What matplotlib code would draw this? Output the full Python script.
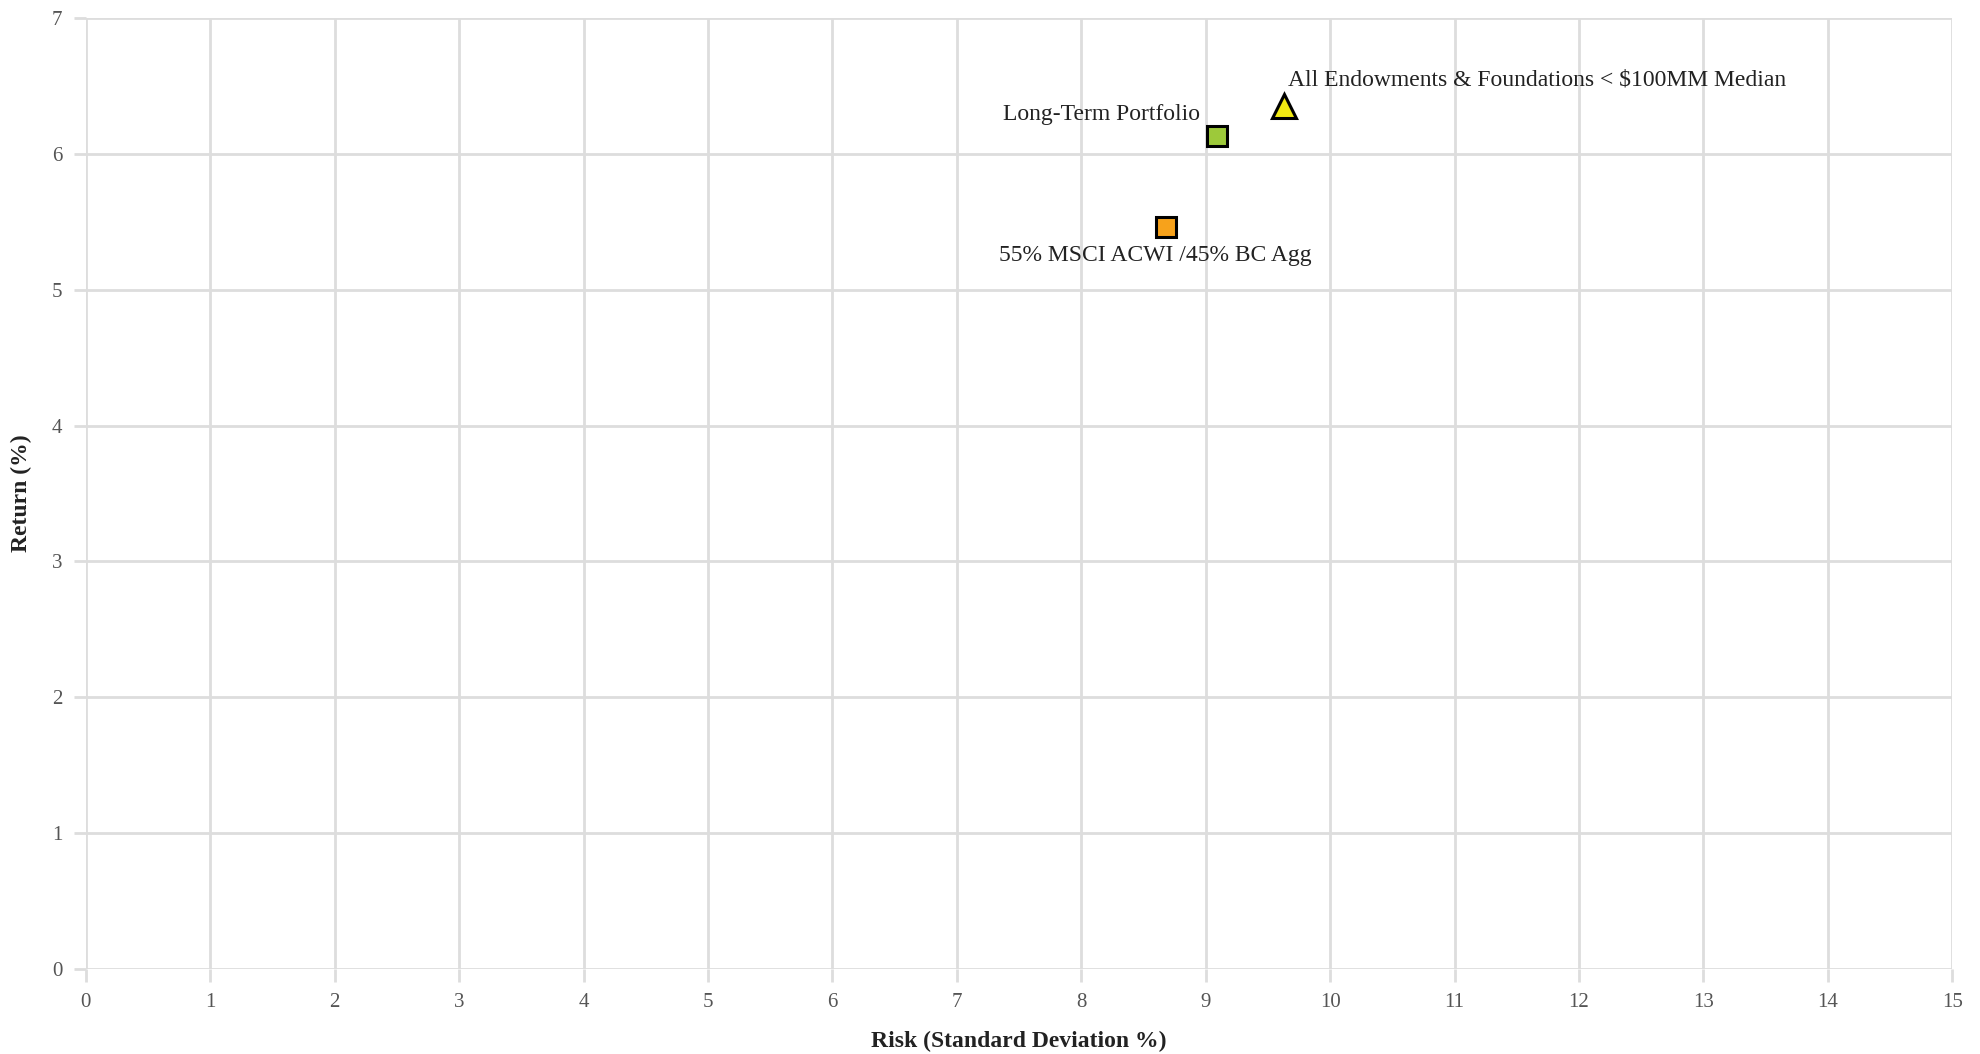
import matplotlib
matplotlib.use("Agg")
import matplotlib.pyplot as plt

plt.rcParams['font.family'] = ['Liberation Serif', 'DejaVu Serif']

# Risk / return points
names = ["All Endowments & Foundations < $100MM Median",
         "Long-Term Portfolio",
         "55% MSCI ACWI /45% BC Agg"]
risk = [9.63, 9.09, 8.68]
ret = [6.35, 6.13, 5.46]
markers = ["^", "s", "s"]
colors = ["#f2ea12", "#9dc93a", "#f7a21b"]
# label placement: offset (points) and alignment
offsets = [(3, 11), (-12, 8), (-8, -13)]
aligns = [("left", "bottom"), ("right", "bottom"), ("center", "top")]

x_ticks = list(range(0, 16))
y_ticks = list(range(0, 8))

fig = plt.figure(figsize=(19.8, 10.54), dpi=100)
ax = fig.add_axes([0.0434, 0.0806, 0.9426, 0.9024])

for n, x, y, m, c, off, (ha, va) in zip(names, risk, ret, markers, colors, offsets, aligns):
    ax.plot(x, y, marker=m, markersize=15 if m == "s" else 17, markerfacecolor=c,
            markeredgecolor="black", markeredgewidth=2.2, linestyle="none", zorder=5)
    ax.annotate(n, (x, y), xytext=off, textcoords="offset points",
                ha=ha, va=va, fontsize=17, color="#222222")

ax.set_xlim(0, 15)
ax.set_ylim(0, 7)
ax.set_xticks(x_ticks)
ax.set_yticks(y_ticks)
ax.grid(True, color="#dddddd", linewidth=2)
ax.set_axisbelow(True)
for s in ax.spines.values():
    s.set_visible(False)
ax.tick_params(axis="both", colors="#dddddd", length=9, width=2,
               labelcolor="#555555", labelsize=15, pad=8)

ax.set_xlabel("Risk (Standard Deviation %)", fontsize=17, fontweight="bold",
              color="#222222", labelpad=14)
ax.set_ylabel("Return (%)", fontsize=17, fontweight="bold",
              color="#222222", labelpad=14)

fig.savefig("out.png", dpi=100, facecolor="white")
